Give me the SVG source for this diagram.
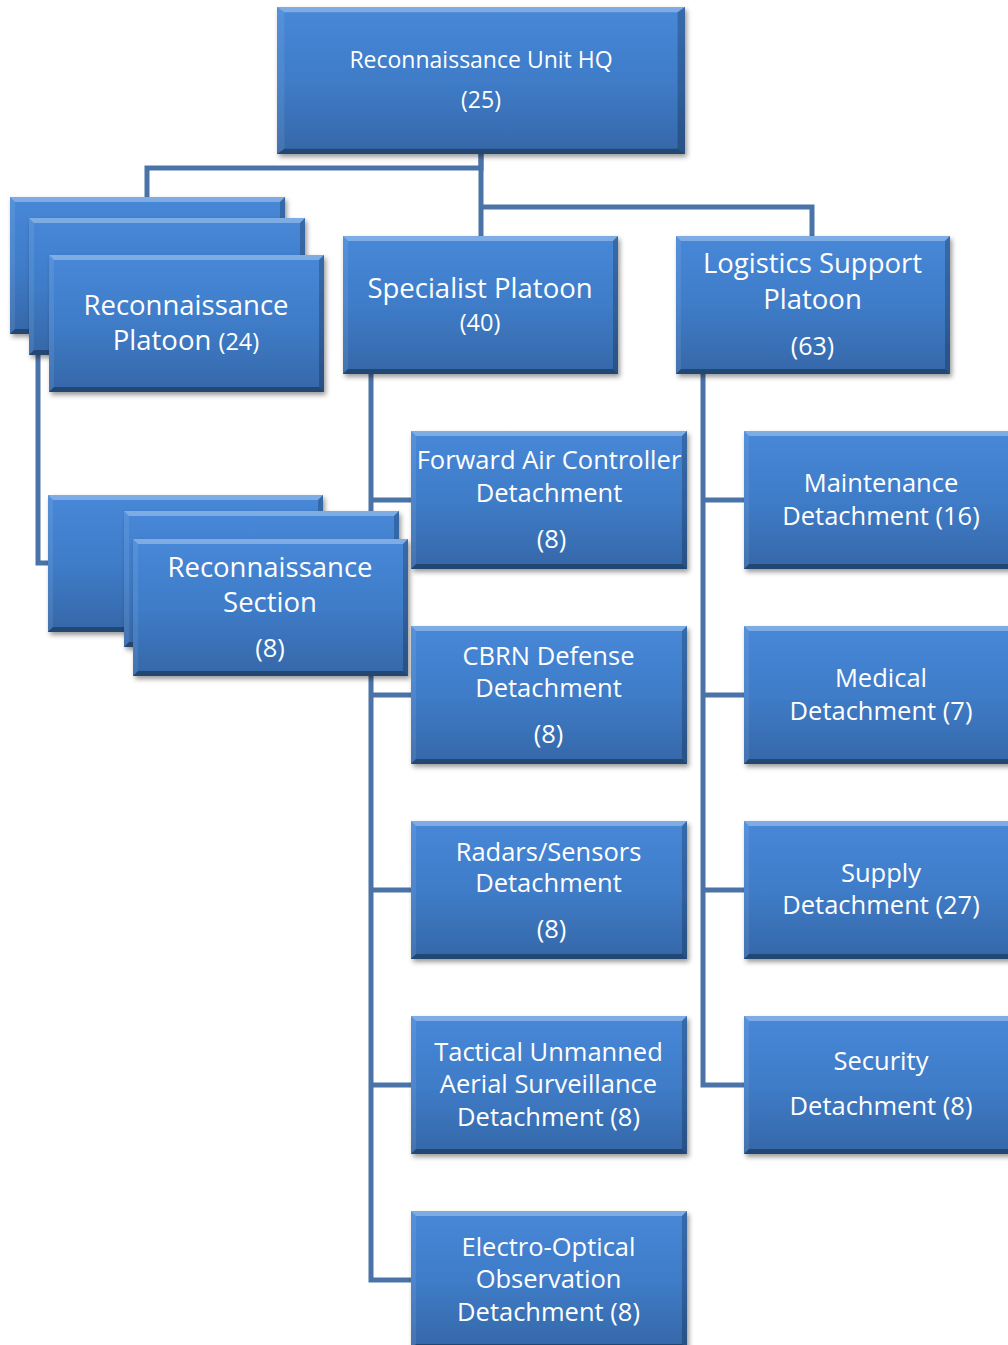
<svg xmlns="http://www.w3.org/2000/svg" xmlns:xlink="http://www.w3.org/1999/xlink" width="1008" height="1345" viewBox="0 0 1008 1345">
<style>
.conn{fill:none;stroke:#4a73a8;stroke-width:5;stroke-linejoin:miter;stroke-linecap:butt}
.box{filter:url(#sh)}
.t{font-family:"Open Sans","Liberation Sans",sans-serif;fill:#ffffff;text-anchor:middle}
.hq{font-size:23px}
.pl{font-size:27.5px}
.dt{font-size:25.5px}
.sm{font-size:23.5px}
</style>
<defs>
<linearGradient id="face" x1="0" y1="0" x2="0" y2="1">
<stop offset="0" stop-color="#4788d8"/>
<stop offset="0.5" stop-color="#3f7cc8"/>
<stop offset="1" stop-color="#3567a8"/>
</linearGradient>
<filter id="sh" x="-10%" y="-10%" width="125%" height="130%">
<feDropShadow dx="2" dy="3" stdDeviation="2.5" flood-color="#000" flood-opacity="0.4"/>
</filter>
<symbol id="b" viewBox="0 0 275 138" preserveAspectRatio="none">
<rect x="0" y="0" width="275" height="138" fill="url(#face)"/>
<polygon points="0,0 275,0 270,5 5,5" fill="#ffffff" opacity="0.3"/>
<polygon points="0,0 5,5 5,133 0,138" fill="#ffffff" opacity="0.08"/>
<polygon points="275,0 275,138 270,133 270,5" fill="#000000" opacity="0.22"/>
<polygon points="0,138 275,138 270,133 5,133" fill="#000000" opacity="0.32"/>
</symbol>
</defs>
<rect x="0" y="0" width="1008" height="1345" fill="#ffffff"/>
<g id="connectors">
<path class="conn" d="M481,154 V168 H147 V198"/>
<path class="conn" d="M481,154 V237"/>
<path class="conn" d="M481,207 H812 V237"/>
<path class="conn" d="M38,330 V563 H49"/>
<path class="conn" d="M371,373 V1280 H412"/>
<path class="conn" d="M371,500 H412"/>
<path class="conn" d="M371,695 H412"/>
<path class="conn" d="M371,890 H412"/>
<path class="conn" d="M371,1085 H412"/>
<path class="conn" d="M703,373 V1085 H745"/>
<path class="conn" d="M703,500 H745"/>
<path class="conn" d="M703,695 H745"/>
<path class="conn" d="M703,890 H745"/>
</g>
<g id="hq">
<use class="box" xlink:href="#b" href="#b" x="277" y="7" width="408" height="147"/>
<text class="t hq" x="481" y="68">Reconnaissance Unit HQ</text>
<text class="t hq" x="481" y="108">(25)</text>
</g>
<g id="recon-platoon">
<use class="box" xlink:href="#b" href="#b" x="10" y="197" width="275" height="137"/>
<use class="box" xlink:href="#b" href="#b" x="29" y="218" width="276" height="137"/>
<use class="box" xlink:href="#b" href="#b" x="49" y="255" width="275" height="137"/>
<text class="t pl" x="186" y="315">Reconnaissance</text>
<text class="t pl" x="186" y="350">Platoon <tspan class="sm">(24)</tspan></text>
</g>
<g id="specialist-platoon">
<use class="box" xlink:href="#b" href="#b" x="343" y="236" width="275" height="138"/>
<text class="t pl" x="480" y="298">Specialist Platoon</text>
<text class="t sm" x="480" y="331">(40)</text>
</g>
<g id="logistics-platoon">
<use class="box" xlink:href="#b" href="#b" x="676" y="236" width="274" height="138"/>
<text class="t pl" x="812.5" y="273">Logistics Support</text>
<text class="t pl" x="812.5" y="309">Platoon</text>
<text class="t" style="font-size:25px" x="812.5" y="355">(63)</text>
</g>
<g id="recon-section">
<use class="box" xlink:href="#b" href="#b" x="48" y="495" width="275" height="137"/>
<use class="box" xlink:href="#b" href="#b" x="124" y="511" width="275" height="136"/>
<use class="box" xlink:href="#b" href="#b" x="133" y="539" width="275" height="137"/>
<text class="t pl" x="270" y="576.5">Reconnaissance</text>
<text class="t pl" x="270" y="611.5">Section</text>
<text class="t dt" x="270" y="656.5">(8)</text>
</g>
<g id="fac-detachment">
<use class="box" xlink:href="#b" href="#b" x="411" y="431" width="276" height="138"/>
<text class="t dt" x="549" y="469">Forward Air Controller</text>
<text class="t dt" x="549" y="501.5">Detachment</text>
<text class="t dt" x="551.5" y="548">(8)</text>
</g>
<g id="cbrn-detachment">
<use class="box" xlink:href="#b" href="#b" x="411" y="626" width="276" height="138"/>
<text class="t dt" x="548.5" y="665">CBRN Defense</text>
<text class="t dt" x="548.5" y="697">Detachment</text>
<text class="t dt" x="548.5" y="743">(8)</text>
</g>
<g id="radars-detachment">
<use class="box" xlink:href="#b" href="#b" x="411" y="821" width="276" height="138"/>
<text class="t dt" x="548.5" y="860.5">Radars/Sensors</text>
<text class="t dt" x="548.5" y="892">Detachment</text>
<text class="t dt" x="551.5" y="938">(8)</text>
</g>
<g id="tuas-detachment">
<use class="box" xlink:href="#b" href="#b" x="411" y="1016" width="276" height="138"/>
<text class="t dt" x="548.5" y="1061">Tactical Unmanned</text>
<text class="t dt" x="548.5" y="1093">Aerial Surveillance</text>
<text class="t dt" x="548.5" y="1125.5">Detachment (8)</text>
</g>
<g id="eo-detachment">
<use class="box" xlink:href="#b" href="#b" x="411" y="1211" width="276" height="138"/>
<text class="t dt" x="548.5" y="1256">Electro-Optical</text>
<text class="t dt" x="548.5" y="1288">Observation</text>
<text class="t dt" x="548.5" y="1320.5">Detachment (8)</text>
</g>
<g id="maintenance-detachment">
<use class="box" xlink:href="#b" href="#b" x="744" y="431" width="275" height="138"/>
<text class="t dt" x="881" y="491.5">Maintenance</text>
<text class="t dt" x="881" y="525">Detachment (16)</text>
</g>
<g id="medical-detachment">
<use class="box" xlink:href="#b" href="#b" x="744" y="626" width="275" height="138"/>
<text class="t dt" x="881" y="686.5">Medical</text>
<text class="t dt" x="881" y="720">Detachment (7)</text>
</g>
<g id="supply-detachment">
<use class="box" xlink:href="#b" href="#b" x="744" y="821" width="275" height="138"/>
<text class="t dt" x="881" y="881.5">Supply</text>
<text class="t dt" x="881" y="913.5">Detachment (27)</text>
</g>
<g id="security-detachment">
<use class="box" xlink:href="#b" href="#b" x="744" y="1016" width="275" height="138"/>
<text class="t dt" x="881" y="1070">Security</text>
<text class="t dt" x="881" y="1115">Detachment (8)</text>
</g>
</svg>
